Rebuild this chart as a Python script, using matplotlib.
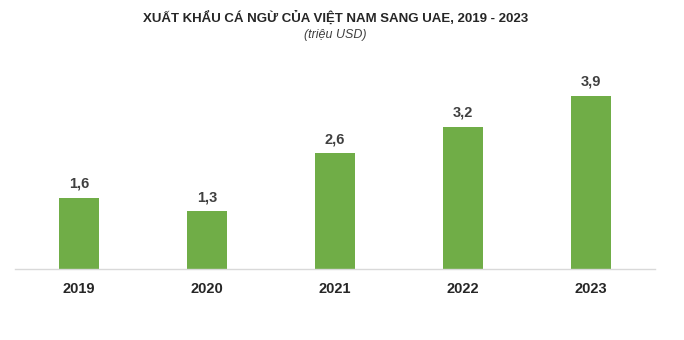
import matplotlib.pyplot as plt

years = ["2019", "2020", "2021", "2022", "2023"]
values = [1.6, 1.3, 2.6, 3.2, 3.9]

title = "XUẤT KHẨU CÁ NGỪ CỦA VIỆT NAM SANG UAE, 2019 - 2023"
unit = "(triệu USD)"

plt.rcParams["font.family"] = ["Liberation Sans", "DejaVu Sans"]

W, H = 684, 340
fig = plt.figure(figsize=(W / 100, H / 100), dpi=100)
ax = fig.add_axes([15 / W, 71 / H, 640 / W, 200 / H])

x = range(len(years))
bars = ax.bar(x, values, width=0.31, color="#70AD47", zorder=2)
for b, v in zip(bars, values):
    ax.annotate(f"{v:.1f}".replace(".", ","),
                (b.get_x() + b.get_width() / 2, v),
                xytext=(0, 5), textcoords="offset points",
                ha="center", va="bottom", fontsize=10.5,
                fontweight="bold", color="#404040")

ax.set_xlim(-0.5, len(years) - 0.5)
ax.set_ylim(0, 4.5)
ax.set_xticks(list(x))
ax.set_xticklabels(years, fontsize=10.5, fontweight="bold", color="#262626")
ax.tick_params(axis="x", length=0, pad=9.5)
ax.set_yticks([])
for side in ["top", "left", "right"]:
    ax.spines[side].set_visible(False)
ax.spines["bottom"].set_color("#D9D9D9")
ax.spines["bottom"].set_linewidth(1)

fig.text(336 / W, 1 - 18 / H, title, ha="center", va="center",
         fontsize=9.5, fontweight="bold", color="#262626")
fig.text(335 / W, 1 - 35 / H, unit, ha="center", va="center",
         fontsize=9, style="italic", color="#404040")

fig.savefig("out.png", dpi=100)
